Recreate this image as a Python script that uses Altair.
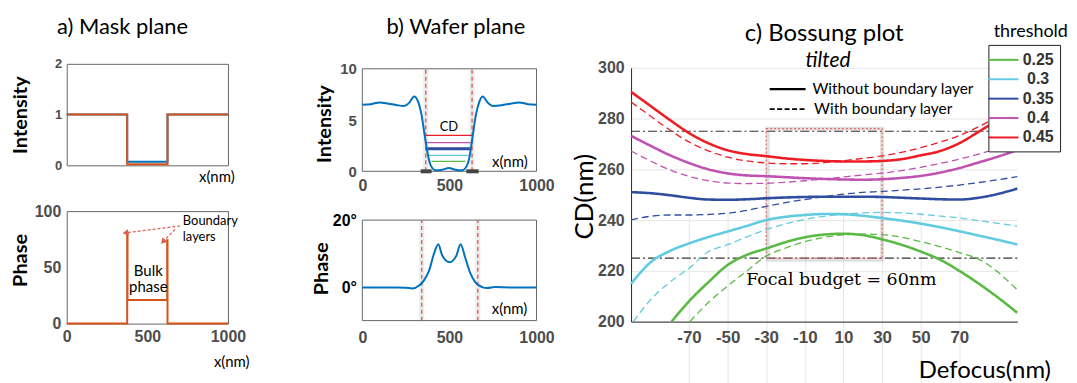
import altair as alt
import pandas as pd

# ================= data =================
# a) Mask plane
MASK_X = [0, 375, 375, 625, 625, 1000]
MASK_INT_BLUE = [1, 1, 0.07, 0.07, 1, 1]
MASK_INT_ORANGE = [1, 1, 0.02, 0.02, 1, 1]
MASK_PHASE_X = [0, 375, 375, 377, 377, 623, 623, 625, 625, 1000]
MASK_PHASE = [0, 0, 81, 81, 21, 21, 74, 74, 0, 0]

# b) Wafer plane
WAFER_X = [0, 50, 100, 150, 200, 240, 270, 297, 320, 340, 358, 377, 392, 420, 459, 497,
           535, 573, 602, 617, 634, 652, 672, 691, 720, 750, 800, 850, 900, 950, 1000]
WAFER_INT = [6.5, 6.55, 6.72, 6.6, 6.45, 6.38, 6.7, 7.3, 6.8, 5.5, 3.5, 1.56, 0.6, 0.1, 0.15, 0.32,
             0.15, 0.1, 0.6, 1.56, 3.5, 5.5, 6.8, 7.3, 6.7, 6.38, 6.45, 6.6, 6.72, 6.55, 6.5]
INT_EDGE_X = [364, 630]
CD_LEVEL = [3.5, 2.8, 2.2, 1.56, 0.97]
CD_LEVEL_THR = ["0.45", "0.4", "0.35", "0.3", "0.25"]
CD_LEVEL_X1 = [358, 363, 373, 382, 397]
CD_LEVEL_X2 = [634, 630, 620, 611, 592]
MASK_BAR_X1 = [335, 597]
MASK_BAR_X2 = [398, 668]
PHASE_X = [0, 100, 200, 250, 287, 326, 354, 383, 411, 436, 459, 501, 540, 564, 590, 618,
           648, 688, 716, 762, 850, 1000]
PHASE_DEG = [-0.1, -0.1, -0.1, -0.2, -0.4, 0.5, 2.0, 4.9, 9.9, 12.8, 9.4, 7.4, 9.4, 12.8, 8.9, 4.4,
             1.5, 0.0, -0.3, 0.0, -0.1, -0.1]
PHASE_EDGE_X = [341, 663]

# c) Bossung plot
DEFOCUS = [-100, -90, -80, -70, -60, -50, -40, -30, -20, -10, 0, 10, 20, 30, 40, 50, 60, 70, 80, 90, 100]
THRESHOLDS = ["0.25", "0.3", "0.35", "0.4", "0.45"]
CD_WITHOUT = {
    "0.45": [290.5, 285.0, 279.5, 274.3, 270.3, 267.5, 266.0, 265.2, 264.3, 263.7, 263.3, 263.1, 263.1,
             263.3, 264.0, 265.5, 267.2, 270.3, 274.8, 279.5, 284.5],
    "0.4": [273.2, 269.3, 265.6, 262.5, 260.0, 258.4, 257.6, 257.3, 256.9, 256.5, 256.2, 256.0, 255.9,
            256.1, 256.6, 257.4, 258.7, 260.5, 262.7, 265.0, 267.6],
    "0.35": [251.0, 250.6, 249.8, 248.8, 248.1, 248.0, 248.2, 248.6, 248.9, 249.1, 249.2, 249.2, 249.2,
             249.1, 248.8, 248.5, 248.2, 248.1, 248.8, 250.3, 252.4],
    "0.3": [214.9, 223.3, 227.8, 230.8, 233.3, 235.5, 237.7, 240.0, 241.3, 242.0, 242.4, 242.3, 241.7,
            240.8, 239.8, 238.6, 237.2, 235.6, 233.9, 232.2, 230.4],
    "0.25": [None, None, None, 208.0, 215.5, 222.3, 226.3, 228.8, 231.3, 233.2, 234.3, 234.6, 234.1,
             232.4, 230.3, 227.6, 224.4, 220.0, 215.0, 209.5, 203.5],
}
CD_WITH = {
    "0.45": [286.5, 281.0, 275.5, 270.8, 267.3, 264.8, 263.3, 262.5, 262.2, 262.2, 262.6, 263.4, 264.3,
             265.3, 266.7, 268.5, 270.7, 273.3, 276.8, 280.8, 285.3],
    "0.4": [267.2, 263.3, 259.8, 257.2, 255.5, 254.6, 254.4, 254.5, 254.9, 255.5, 256.2, 257.0, 257.8,
            258.5, 259.5, 260.8, 262.3, 264.0, 266.0, 268.3, 270.8],
    "0.35": [240.1, 241.5, 242.0, 242.0, 242.2, 242.7, 243.8, 245.4, 246.9, 248.1, 249.2, 250.2, 250.9,
             251.3, 251.8, 252.3, 253.0, 253.8, 254.8, 255.9, 257.1],
    "0.3": [None, 208.5, 215.5, 221.0, 227.5, 230.3, 233.4, 236.3, 238.5, 240.3, 241.5, 242.3, 242.8,
            243.0, 242.8, 242.3, 241.6, 240.8, 239.8, 238.7, 237.6],
    "0.25": [None, None, None, None, 207.5, 214.0, 220.0, 225.8, 229.0, 231.5, 233.2, 234.2, 234.5,
             234.3, 233.3, 231.5, 229.5, 227.2, 224.6, 219.5, 212.5],
}
# where the curves enter through the bottom edge of the plot (defocus, CD)
CURVE_ENTRY = {("without", "0.25"): (-79.0, 200.0),
               ("with", "0.3"): (-98.8, 200.0),
               ("with", "0.25"): (-69.6, 200.0)}
CD_TOLERANCE = [225, 275]
FOCAL_WINDOW = [-30, 30]
CD_WINDOW = [225, 276]

# ================= styles =================
LABEL_FONT = "Liberation Sans"
TEXT_FONT = "Lato"
SERIF_FONT = "DejaVu Serif"
GRAY = "#4d4d4d"
M_BLUE = "#0072bd"
M_ORANGE = "#d95319"
EDGE_RED = "#e8564e"
ARROW_RED = "#d9604f"
THR_COLORS = ["#5cb946", "#62cbe0", "#2f4ea2", "#c053b1", "#ee1d25"]
FRAME = alt.ViewBackground(stroke="#666", strokeWidth=1)

ONE = pd.DataFrame({"k": [0]})


def sc(domain, rng=None):
    if rng is None:
        return alt.Scale(domain=domain, nice=False, zero=False)
    return alt.Scale(domain=domain, range=rng, nice=False, zero=False)


def ax(**kw):
    base = dict(grid=False, ticks=False, domain=False, labelFlush=False, labelOverlap=False,
                labelExpr="'' + datum.value",
                labelFont=LABEL_FONT, labelFontWeight="bold", labelColor=GRAY, labelFontSize=16,
                titleFont=TEXT_FONT, titleFontWeight="bold", titleColor="black", titleFontSize=20)
    base.update(kw)
    return alt.Axis(**base)


def yt(title, tx, ty, size=20, weight="bold"):
    return dict(title=title, titleAngle=270, titleBaseline="middle", titleAlign="center",
                titleX=tx, titleY=ty, titleFontSize=size, titleFontWeight=weight)


def note(text, x, y, X, Y, **mk):
    opts = dict(font=TEXT_FONT, fontSize=15, color="black", align="center", baseline="middle")
    opts.update(mk)
    return alt.Chart(ONE).mark_text(text=text, **opts).encode(
        x=alt.XDatum(x, type="quantitative", **X),
        y=alt.YDatum(y, type="quantitative", **Y))


def line_chart(xs, ys, X, Y, **mk):
    df = pd.DataFrame({"x": xs, "y": ys, "i": list(range(len(xs)))})
    return alt.Chart(df).mark_line(**mk).encode(
        x=alt.X("x:Q", **X), y=alt.Y("y:Q", **Y), order="i:Q")


def vrules(xs, X, Y, y0, y1, **mk):
    df = pd.DataFrame({"x": xs, "y0": [y0] * len(xs), "y1": [y1] * len(xs)})
    return alt.Chart(df).mark_rule(**mk).encode(x=alt.X("x:Q", **X), y=alt.Y("y0:Q", **Y), y2="y1:Q")


def frame(xd, yd, X, Y):
    df = pd.DataFrame({"x1": [xd[0]], "x2": [xd[1]], "y1": [yd[0]], "y2": [yd[1]]})
    return alt.Chart(df).mark_rect(fillOpacity=0, stroke="#666", strokeWidth=1).encode(
        x=alt.X("x1:Q", **X), x2="x2:Q", y=alt.Y("y1:Q", **Y), y2="y2:Q")


def blank(w):
    return alt.Chart(ONE).mark_point(opacity=0).encode(
        x=alt.value(0), y=alt.value(0)).properties(width=w, height=1)


# ================= a) Mask plane =================
XA1 = dict(scale=sc([0, 1000]), axis=ax(labels=False, title=None))
YA1 = dict(scale=sc([0, 2]), axis=ax(values=[0, 1, 2], labelFontSize=13, labelPadding=5,
                                     **yt("Intensity", -46, 51)))
a_top = alt.layer(
    line_chart(MASK_X, MASK_INT_BLUE, XA1, YA1, color=M_BLUE, strokeWidth=2),
    line_chart(MASK_X, MASK_INT_ORANGE, XA1, YA1, color=M_ORANGE, strokeWidth=2),
    note("a) Mask plane", 346, 2.594, XA1, YA1, fontSize=22, baseline="alphabetic"),
    note("x(nm)", 931, -0.24, XA1, YA1),
).properties(width=162, height=102, view=FRAME)

XA2 = dict(scale=sc([0, 1000]), axis=ax(values=[0, 500, 1000], labelPadding=5, title=None))
YA2 = dict(scale=sc([0, 100]), axis=ax(values=[0, 50, 100], labelPadding=6, **yt("Phase", -46, 49)))

arrows = pd.DataFrame({"x": [704, 673], "y": [86.8, 83.8], "x2": [370, 601], "y2": [80.8, 73.5]})
arrow_lines = alt.Chart(arrows).mark_rule(color=ARROW_RED, strokeDash=[3, 2], strokeWidth=1.2).encode(
    x=alt.X("x:Q", **XA2), y=alt.Y("y:Q", **YA2), x2="x2:Q", y2="y2:Q")
tip1 = alt.Chart(arrows.iloc[[0]]).mark_point(shape="triangle", filled=True, size=45, angle=263,
                                              color=ARROW_RED, opacity=1).encode(
    x=alt.X("x2:Q", **XA2), y=alt.Y("y2:Q", **YA2))
tip2 = alt.Chart(arrows.iloc[[1]]).mark_point(shape="triangle", filled=True, size=45, angle=225,
                                              color=ARROW_RED, opacity=1).encode(
    x=alt.X("x2:Q", **XA2), y=alt.Y("y2:Q", **YA2))

a_bot = alt.layer(
    line_chart(MASK_PHASE_X, MASK_PHASE, XA2, YA2, color=M_ORANGE, strokeWidth=2),
    arrow_lines, tip1, tip2,
    note("Boundary", 720, 87.6, XA2, YA2, fontSize=13, align="left", baseline="alphabetic"),
    note("layers", 720, 73.5, XA2, YA2, fontSize=13, align="left", baseline="alphabetic"),
    note("Bulk", 506, 42.6, XA2, YA2, baseline="alphabetic"),
    note("phase", 506, 27.9, XA2, YA2, baseline="alphabetic"),
    note("x(nm)", 1023, -33.9, XA2, YA2),
).properties(width=162, height=113, view=FRAME)

# ================= b) Wafer plane =================
XB1 = dict(scale=sc([0, 1000]), axis=ax(values=[0, 500, 1000], labelPadding=6, title=None))
YB1 = dict(scale=sc([0, 10], [108, 5]),
           axis=ax(values=[0, 5, 10], labelFontSize=15, labelPadding=6, **yt("Intensity", -38, 60)))
level_color = dict(zip(THRESHOLDS, THR_COLORS))
levels = pd.DataFrame({"lvl": CD_LEVEL, "thr": CD_LEVEL_THR, "x1": CD_LEVEL_X1, "x2": CD_LEVEL_X2,
                       "col": [level_color[t] for t in CD_LEVEL_THR]})
level_rules = alt.Chart(levels).mark_rule().encode(
    x=alt.X("x1:Q", **XB1), x2="x2:Q", y=alt.Y("lvl:Q", **YB1),
    color=alt.Color("col:N", scale=None),
    strokeWidth=alt.condition("datum.thr == '0.35'", alt.value(3), alt.value(1.3)))
bars = pd.DataFrame({"x1": MASK_BAR_X1, "x2": MASK_BAR_X2})
bar_rules = alt.Chart(bars).mark_rule(color="#444", strokeWidth=4).encode(
    x=alt.X("x1:Q", **XB1), x2="x2:Q", y=alt.YDatum(0, type="quantitative", **YB1))

b_top = alt.layer(
    frame([0, 1000], [0, 10], XB1, YB1),
    vrules(INT_EDGE_X, XB1, YB1, 0, 10, color="#999", strokeWidth=5, opacity=0.2),
    vrules(INT_EDGE_X, XB1, YB1, 0, 10, color=EDGE_RED, strokeWidth=1.3, strokeDash=[4, 3]),
    level_rules,
    line_chart(WAFER_X, WAFER_INT, XB1, YB1, color=M_BLUE, strokeWidth=2, interpolate="monotone"),
    bar_rules,
    note("b) Wafer plane", 537, 13.41, XB1, YB1, fontSize=22, baseline="alphabetic"),
    note("CD", 497, 4.32, XB1, YB1, fontSize=13),
    note("x(nm)", 847, 0.9, XB1, YB1),
).properties(width=175, height=108)

XB2 = dict(scale=sc([0, 1000]), axis=ax(values=[0, 500, 1000], labelPadding=9, title=None))
YB2 = dict(scale=sc([-10, 20], [110, 9]),
           axis=ax(values=[0, 10, 20], labelColor="black", labelPadding=6,
                   labelExpr="datum.value == 10 ? '' : datum.value + '°'",
                   **yt("Phase", -41, 57.5)))
b_bot = alt.layer(
    frame([0, 1000], [-10, 20], XB2, YB2),
    vrules(PHASE_EDGE_X, XB2, YB2, -10, 20, color="#999", strokeWidth=5, opacity=0.2),
    vrules(PHASE_EDGE_X, XB2, YB2, -10, 20, color=EDGE_RED, strokeWidth=1.3, strokeDash=[4, 3]),
    line_chart(PHASE_X, PHASE_DEG, XB2, YB2, color=M_BLUE, strokeWidth=2, interpolate="monotone"),
    note("x(nm)", 845, -6.6, XB2, YB2),
).properties(width=175, height=110)

# ================= c) Bossung plot =================
XC = dict(scale=sc([-100, 100]),
          axis=ax(values=[-70, -50, -30, -10, 10, 30, 50, 70], labelFontSize=17, labelPadding=8,
                  grid=True, gridColor="#e6e6e6", domain=True, domainColor="#262626",
                  title="Defocus(nm)", titleFont=TEXT_FONT, titleFontWeight="normal", titleFontSize=24,
                  titleX=355, titleY=49, titleBaseline="middle", titleAlign="center"))
YC = dict(scale=sc([200, 300], [111, -144]),
          axis=ax(values=[200, 220, 240, 260, 280, 300], labelPadding=7,
                  grid=True, gridColor="#e6e6e6", domain=True, domainColor="#262626",
                  **yt("CD(nm)", -47, -15, size=26, weight="normal")))

rows = []
for kind, table in (("without", CD_WITHOUT), ("with", CD_WITH)):
    for thr in THRESHOLDS:
        entry = CURVE_ENTRY.get((kind, thr))
        if entry is not None:
            rows.append({"defocus": entry[0], "cd": entry[1], "thr": thr, "kind": kind})
        for d, v in zip(DEFOCUS, table[thr]):
            if v is not None:
                rows.append({"defocus": d, "cd": v, "thr": thr, "kind": kind})
curves_df = pd.DataFrame(rows)

curves = alt.Chart(curves_df).mark_line(interpolate="monotone").encode(
    x=alt.X("defocus:Q", **XC), y=alt.Y("cd:Q", **YC),
    color=alt.Color("thr:N", scale=alt.Scale(domain=THRESHOLDS, range=THR_COLORS),
                    legend=alt.Legend(title=None, orient="none", legendX=359, legendY=-167,
                                      direction="vertical", symbolType="M-1.9,0L1.9,0", symbolSize=256,
                                      symbolStrokeWidth=2, labelFont=LABEL_FONT, labelFontSize=16,
                                      labelFontWeight="bold", labelColor="#333", strokeColor="#222",
                                      fillColor="white", padding=6, rowPadding=2.5,
                                      labelAlign="center", labelOffset=26)),
    strokeDash=alt.StrokeDash("kind:N", scale=alt.Scale(domain=["without", "with"],
                                                        range=[[1, 0], [7, 4]]), legend=None),
    strokeWidth=alt.StrokeWidth("kind:N", scale=alt.Scale(domain=["without", "with"], range=[2.6, 1.3]),
                                legend=None),
    detail="thr:N")

tol = alt.Chart(pd.DataFrame({"cd": CD_TOLERANCE, "x0": [-100, -100], "x1": [100, 100]})).mark_rule(
    color="#333", strokeDash=[9, 3, 2, 3], strokeWidth=1.2).encode(
    y=alt.Y("cd:Q", **YC), x=alt.X("x0:Q", **XC), x2="x1:Q")
win = pd.DataFrame({"x1": [FOCAL_WINDOW[0]], "x2": [FOCAL_WINDOW[1]],
                    "y1": [CD_WINDOW[0]], "y2": [CD_WINDOW[1]]})
win_shadow = alt.Chart(win).mark_rect(fillOpacity=0, stroke="#888", strokeWidth=4, strokeOpacity=0.25,
                                      xOffset=1.5, yOffset=1.5).encode(
    x=alt.X("x1:Q", **XC), x2="x2:Q", y=alt.Y("y1:Q", **YC), y2="y2:Q")
win_rect = alt.Chart(win).mark_rect(fillOpacity=0, stroke="#e07070", strokeWidth=1.2,
                                    strokeDash=[2, 2]).encode(
    x=alt.X("x1:Q", **XC), x2="x2:Q", y=alt.Y("y1:Q", **YC), y2="y2:Q")

key_solid = alt.Chart(pd.DataFrame({"x1": [-28.2], "x2": [-9.6], "y": [291.6]})).mark_rule(
    color="black", strokeWidth=2.5).encode(x=alt.X("x1:Q", **XC), x2="x2:Q", y=alt.Y("y:Q", **YC))
key_dash = alt.Chart(pd.DataFrame({"x1": [-28.2], "x2": [-9.6], "y": [283.7]})).mark_rule(
    color="black", strokeWidth=1.8, strokeDash=[5, 2.5]).encode(
    x=alt.X("x1:Q", **XC), x2="x2:Q", y=alt.Y("y:Q", **YC))

c_chart = alt.layer(
    tol, win_shadow, win_rect, curves, key_solid, key_dash,
    note("Without boundary layer", -6.1, 291.5, XC, YC, fontSize=15.5, align="left"),
    note("With boundary layer", -5.2, 283.7, XC, YC, fontSize=15.5, align="left"),
    note("Focal budget = 60nm", 8.9, 214.3, XC, YC, font=SERIF_FONT, fontSize=17.5, baseline="alphabetic"),
    note("c) Bossung plot", 0, 310.7, XC, YC, fontSize=24, baseline="alphabetic"),
    note("tilted", 2, 300.3, XC, YC, fontSize=21, fontStyle="italic", baseline="alphabetic"),
    note("threshold", 107, 312, XC, YC, fontSize=18, baseline="alphabetic"),
).properties(width=388, height=111)

chart = alt.concat(
    a_top, blank(95), b_top, blank(55), blank(388),
    a_bot, blank(95), b_bot, blank(55), c_chart,
    columns=5, spacing={"row": 40, "column": 20}, bounds="flush",
).resolve_scale(color="independent").properties(
    padding={"left": 2, "top": 6, "right": 0, "bottom": 0}).configure_view(stroke="transparent")

chart.save("out.html", embed_options={"renderer": "svg", "actions": False})
